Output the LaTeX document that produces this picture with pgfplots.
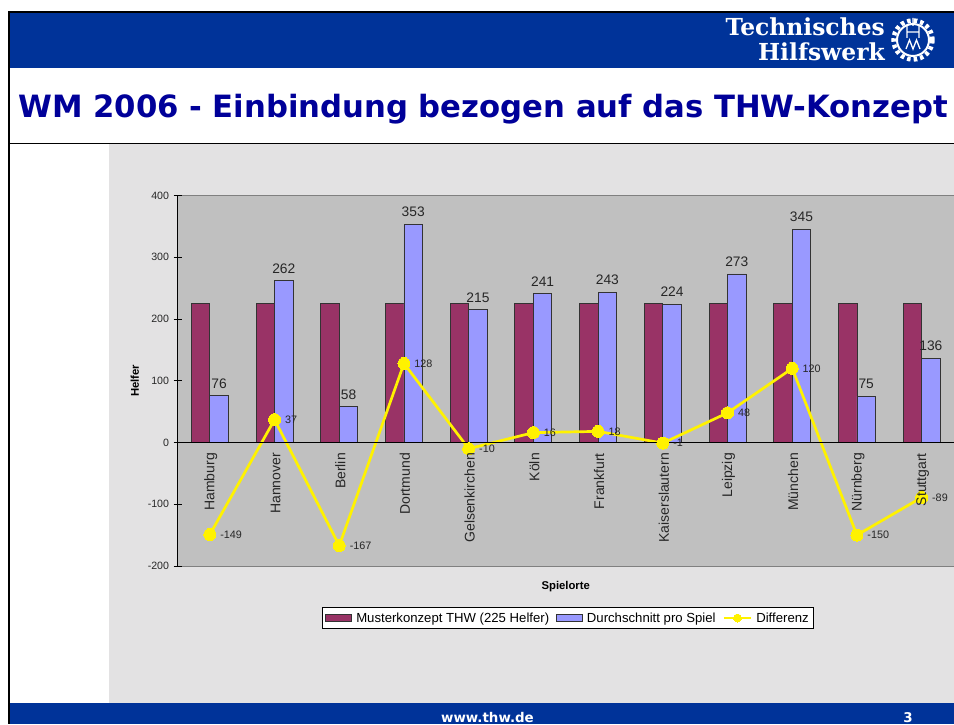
\documentclass[border=0pt]{standalone}
\usepackage{fontspec}
\setmainfont{Liberation Sans}
\newfontfamily\titlefont{DejaVu Sans}
\newfontfamily\logofont{DejaVu Serif}
\usepackage{pgfplots}
\pgfplotsset{compat=1.18}
\pgfplotsset{
  barlegend/.style={legend image code/.code={\draw[##1] (0pt,-3.5pt) rectangle (26pt,4pt);}},
  linelegend/.style={legend image code/.code={\draw[mark repeat=2,mark phase=2,##1,mark size=4pt] plot coordinates {(0pt,0pt)(13.5pt,0pt)(27pt,0pt)};}},
}
\definecolor{thwblue}{HTML}{003399}
\definecolor{titleblue}{HTML}{000099}
\definecolor{panel}{HTML}{E3E2E3}
\definecolor{plotgray}{HTML}{C0C0C0}
\definecolor{maroonbar}{HTML}{993366}
\definecolor{bluebar}{HTML}{9999FF}
\begin{document}
\begin{tikzpicture}[x=1pt,y=1pt]
\useasboundingbox (0,0) rectangle (954,724);
\fill[white] (0,0) rectangle (954,724);
% slide furniture
\fill[thwblue] (8,656) rectangle (954,711);
\fill[black] (8,711) rectangle (954,713);
\fill[panel] (109,21) rectangle (954,580);
\fill[black] (8,579.5) rectangle (954,580.5);
\fill[thwblue] (8,0) rectangle (954,21);
\fill[black] (7.5,0) rectangle (10,713);
\node[anchor=base west,inner sep=0pt,text=titleblue] at (18,606)
  {\titlefont\bfseries\fontsize{30.7}{34}\selectfont WM 2006 - Einbindung bezogen auf das THW-Konzept};
\node[anchor=base east,inner sep=0pt,text=white] at (885,688)
  {\logofont\bfseries\fontsize{23.4}{26}\selectfont Technisches};
\node[anchor=base east,inner sep=0pt,text=white] at (885,663)
  {\logofont\bfseries\fontsize{23.4}{26}\selectfont Hilfswerk};
\begin{scope}[shift={(913,684)}]
  \draw[white,line width=4.5pt,dash pattern=on 3.5pt off 3.1pt] (0,0) circle (19.5);
  \draw[white,line width=2pt] (0,0) circle (16);
  \draw[white,line width=1.3pt] (-7,-9)--(-3.5,0)--(0,-9)--(3.5,0)--(7,-9) (-6,14)--(-6,2) (6,14)--(6,2) (-6,8)--(6,8) (0,14)--(0,22);
\end{scope}
\node[anchor=base,inner sep=0pt,text=white] at (487.5,2)
  {\titlefont\bfseries\fontsize{13.4}{15}\selectfont www.thw.de};
\node[anchor=base,inner sep=0pt,text=white] at (908,2)
  {\titlefont\bfseries\fontsize{13.4}{15}\selectfont 3};
\begin{axis}[
  at={(177.5pt,158pt)}, anchor=south west,
  scale only axis, width=776.5pt, height=370.5pt,
  xmin=-0.5, xmax=11.5, ymin=-200, ymax=400,
  axis x line=middle, axis y line=left,
  axis line style={-,black,line width=0.8pt},
  axis background/.style={fill=plotgray,draw=gray,line width=0.8pt},
  axis on top,
  xtick=\empty,
  minor xtick={-0.5,0.5,1.5,2.5,3.5,4.5,5.5,6.5,7.5,8.5,9.5,10.5,11.5},
  x tick style={black,line width=0.8pt},
  y tick style={black,line width=0.8pt},
  xtick align=center, ytick align=center,
  minor tick length=8pt,
  major tick length=8pt,
  ytick={-200,-100,0,100,200,300,400},
  yticklabel style={font=\fontsize{10.6}{12}\selectfont,text=black!85,xshift=-1pt},
  /pgf/number format/assume math mode=true,
  xlabel={\bfseries Spielorte},
  xlabel style={at={(axis description cs:0.5,-0.032)},anchor=north,font=\fontsize{11.3}{13}\selectfont},
  ylabel={\bfseries Helfer},
  ylabel style={at={(axis description cs:-0.045,0.5)},anchor=south,font=\fontsize{11.3}{13}\selectfont},
  legend columns=3,
  legend style={at={(axis description cs:0.503,-0.1404)},anchor=center,draw=black,line width=0.8pt,fill=white,
    font=\fontsize{13.15}{15}\selectfont,inner xsep=3pt,inner ysep=3pt,
    /tikz/every even column/.style={column sep=5pt},
    /tikz/every odd column/.style={column sep=2pt}},
  legend cell align=left,
]
\addplot[ybar,bar width=18.5pt,bar shift=-9.25pt,fill=maroonbar,draw=black!80,line width=0.8pt,barlegend] coordinates {
 (0,225) (1,225) (2,225) (3,225) (4,225) (5,225) (6,225) (7,225) (8,225) (9,225) (10,225) (11,225)};
\addlegendentry{Musterkonzept THW (225 Helfer)}
\addplot[ybar,bar width=18.5pt,bar shift=9.25pt,fill=bluebar,draw=black!80,line width=0.8pt,barlegend,
  nodes near coords,
  every node near coord/.style={font=\fontsize{13.8}{15}\selectfont,text=black!85,inner sep=0pt,anchor=south,xshift=9.25pt,yshift=7pt}] coordinates {
 (0,76) (1,262) (2,58) (3,353) (4,215) (5,241) (6,243) (7,224) (8,273) (9,345) (10,75) (11,136)};
\addlegendentry{Durchschnitt pro Spiel}
\addplot[yellow,line width=2.7pt,mark=*,mark size=6pt,mark options={fill=yellow,draw=yellow,line width=0pt},
  nodes near coords,
  every node near coord/.style={font=\fontsize{10.8}{12}\selectfont,text=black!85,anchor=west,inner sep=0pt,xshift=10.5pt,yshift=0pt},
  linelegend] coordinates {
 (0,-149) (1,37) (2,-167) (3,128) (4,-10) (5,16) (6,18) (7,-1) (8,48) (9,120) (10,-150) (11,-89)};
\addlegendentry{Differenz}
\end{axis}
% same frame again: the place names lie over the line in the reference
\begin{axis}[
  at={(177.5pt,158pt)}, anchor=south west,
  scale only axis, width=776.5pt, height=370.5pt,
  xmin=-0.5, xmax=11.5, ymin=-200, ymax=400,
  axis x line=middle, axis y line=none,
  axis line style={draw=none},
  xtick={0,1,2,3,4,5,6,7,8,9,10,11},
  xticklabels={Hamburg,Hannover,Berlin,Dortmund,Gelsenkirchen,Köln,Frankfurt,Kaiserslautern,Leipzig,München,Nürnberg,Stuttgart},
  major x tick style={draw=none},
  xticklabel style={rotate=90,anchor=east,font=\fontsize{14}{16}\selectfont,yshift=-1pt,xshift=-5pt,text=black!85},
]
\end{axis}
\end{tikzpicture}
\end{document}
